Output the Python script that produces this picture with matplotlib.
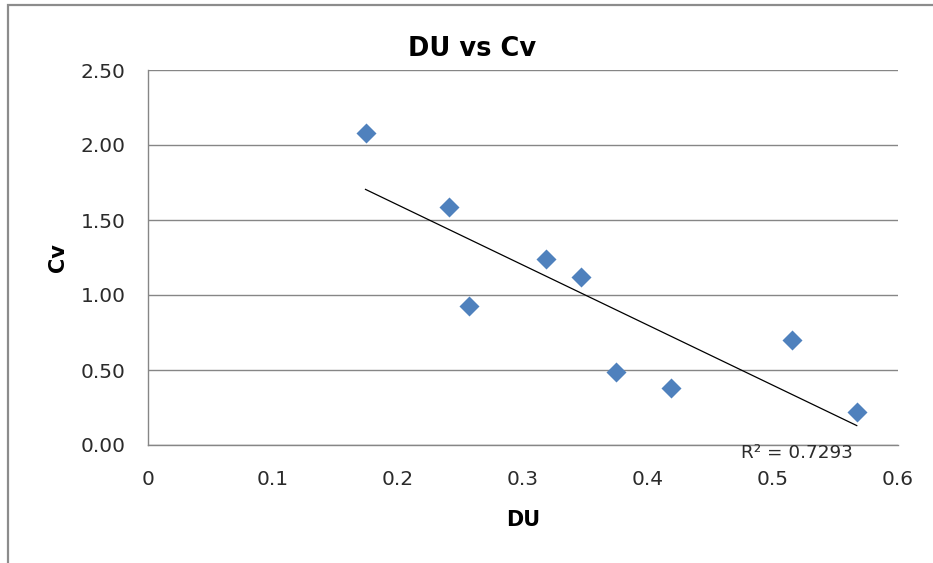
import numpy as np
import matplotlib
matplotlib.use('Agg')
from matplotlib import pyplot as plt
from matplotlib.patches import Rectangle

du = [0.174, 0.241, 0.257, 0.318, 0.346, 0.374, 0.418, 0.515, 0.567]
cv = [2.08, 1.59, 0.93, 1.24, 1.12, 0.49, 0.38, 0.70, 0.22]
x_ticks = [0, 0.1, 0.2, 0.3, 0.4, 0.5, 0.6]
x_tick_labels = ['0', '0.1', '0.2', '0.3', '0.4', '0.5', '0.6']
y_ticks = [0.0, 0.5, 1.0, 1.5, 2.0, 2.5]
r2_label = 'R\u00b2 = 0.7293'

grey = '#868686'
blue = '#4f81bd'


def plot_du_cv():
    fig = plt.figure(figsize=(9.33, 5.63), dpi=100)
    ax = fig.add_axes([148 / 933, 1 - 445 / 563, 750 / 933, 375 / 563])

    # chart border (cut off on the right and bottom)
    fig.patches.append(Rectangle((8 / 933, -0.2), 1.2, 1.2 - 5 / 563,
                                 transform=fig.transFigure, fill=False,
                                 edgecolor='#8c8c8c', lw=1.6))

    ax.scatter(du, cv, marker='D', s=10.2 ** 2, color=blue, zorder=3,
               linewidths=0)

    # linear trendline
    slope, intercept = np.polyfit(du, cv, 1)
    xs = np.array([min(du), max(du)])
    ax.plot(xs, slope * xs + intercept, color='black', lw=0.9, zorder=2)

    ax.set_xlim(0, 0.6)
    ax.set_ylim(0, 2.5)
    ax.set_xticks(x_ticks)
    ax.set_xticklabels(x_tick_labels)
    ax.set_yticks(y_ticks)
    ax.set_yticklabels([f'{v:.2f}' for v in y_ticks])
    ax.tick_params(axis='both', length=0, labelsize=14.5, colors='#2b2b2b')
    ax.tick_params(axis='y', pad=16)
    ax.tick_params(axis='x', pad=18)

    ax.yaxis.grid(True, color=grey, lw=1)
    ax.set_axisbelow(True)
    for side in ['top', 'right']:
        ax.spines[side].set_visible(False)
    for side in ['left', 'bottom']:
        ax.spines[side].set_color(grey)
        ax.spines[side].set_linewidth(1)

    ax.set_xlabel('DU', fontsize=15, fontweight='bold', labelpad=15)
    ax.set_ylabel('Cv', fontsize=15, fontweight='bold', labelpad=9)
    fig.text(472 / 933, 1 - 49 / 563, 'DU vs Cv', fontsize=18.5,
             fontweight='bold', ha='center', va='center')

    ax.text(0.865, -0.02, r2_label, transform=ax.transAxes, fontsize=13.2,
            ha='center', va='center', color='#2b2b2b', clip_on=False)

    fig.savefig('out.png', dpi=100)


def main():
    plot_du_cv()


if __name__ == '__main__':
    main()
